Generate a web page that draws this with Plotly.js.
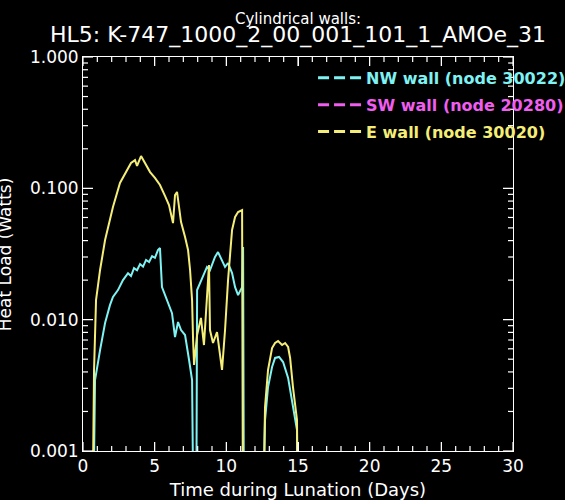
<!DOCTYPE html>
<html>
<head>
<meta charset="utf-8">
<script src="https://cdn.plot.ly/plotly-3.0.1.min.js"></script>
<style>
html,body{margin:0;padding:0;background:#000;}
#chart{width:565px;height:500px;}
</style>
</head>
<body>
<div id="chart"></div>
<script>
// Time during lunation (days) and heat load (W).
// Values of 1e-4 stand for "zero" (below the 0.001 floor of the plot).
const daysNW = [0.66, 0.84, 1.19, 1.54, 1.88, 2.09, 2.44, 2.79, 3.14, 3.35, 3.56, 3.77, 3.98, 4.19, 4.40, 4.61, 4.82, 5.02, 5.23, 5.37,
  5.51, 5.86, 6.21, 6.42, 6.63, 6.84, 7.12, 7.40, 7.61, 7.75, 7.89, 7.96, 8.16, 8.37, 8.65, 8.86, 9.21, 9.42, 9.70, 9.91,
  10.12, 10.40, 10.61, 10.82, 11.10, 11.17, 11.24, 12.49, 12.70, 12.91, 13.19, 13.40, 13.68, 13.96, 14.31, 14.65, 14.93, 15.00];
const heatNW = [1e-4, 0.00347, 0.00587, 0.00944, 0.0129, 0.0149, 0.0168, 0.0200, 0.0226, 0.0215, 0.0247, 0.0238, 0.0265, 0.0253, 0.0285, 0.0275, 0.0305, 0.0296, 0.0339, 0.0351,
  0.0177, 0.0141, 0.0112, 0.00738, 0.00960, 0.00834, 0.00764, 0.00493, 0.00347, 1e-4, 1e-4, 0.0168, 0.0190, 0.0211, 0.0252, 0.0238, 0.0300, 0.0327, 0.0285, 0.0252,
  0.0270, 0.0226, 0.0177, 0.0154, 0.0177, 0.0357, 1e-4, 1e-4, 0.00172, 0.00307, 0.00436, 0.00511, 0.00520, 0.00476, 0.00360, 0.00216, 0.00144, 1e-4];

const daysSW = [0, 15];
const heatSW = [1e-4, 1e-4];

const daysE = [0.62, 0.77, 0.91, 1.19, 1.54, 2.09, 2.58, 3.07, 3.35, 3.63, 3.77, 4.05, 4.33, 4.68, 5.02, 5.37, 5.72, 6.00, 6.28, 6.42,
  6.56, 6.84, 7.12, 7.33, 7.47, 7.61, 7.68, 7.75, 7.96, 8.23, 8.44, 8.65, 8.79, 8.86, 9.07, 9.35, 9.70, 9.91, 10.12, 10.40,
  10.61, 10.82, 11.10, 11.17, 12.49, 12.70, 12.91, 13.19, 13.40, 13.61, 13.89, 14.10, 14.31, 14.45, 14.65, 14.93, 15.00];
const heatE = [1e-4, 0.00414, 0.0141, 0.0239, 0.0404, 0.0722, 0.110, 0.138, 0.156, 0.164, 0.148, 0.176, 0.156, 0.133, 0.120, 0.106, 0.0875, 0.0746, 0.0544, 0.0889,
  0.0938, 0.0554, 0.0426, 0.0339, 0.0239, 0.0141, 0.0070, 0.00452, 0.00764, 0.0103, 0.00641, 0.0141, 0.0261, 0.00834, 0.00664, 0.00805, 0.00414, 0.00834, 0.0200, 0.0482,
  0.0605, 0.0660, 0.0684, 1e-4, 1e-4, 0.00216, 0.00414, 0.00608, 0.00664, 0.00687, 0.00641, 0.00664, 0.00619, 0.00511, 0.00307, 0.00172, 1e-4];

const seriesNames = ['NW wall (node 30022)', 'SW wall (node 20280)', 'E wall (node 30020)'];
const seriesColors = ['#7ff3f3', '#f05ef0', '#f4ee78'];
const titleLine1 = 'Cylindrical walls:';
const titleLine2 = 'HL5: K-747_1000_2_00_001_101_1_AMOe_31';
const xTitle = 'Time during Lunation (Days)';
const yTitle = 'Heat Load (Watts)';
// axis tick positions
const xMajorTicks = [0, 5, 10, 15, 20, 25, 30];
const xMinorTicks = [1, 2, 3, 4, 6, 7, 8, 9, 11, 12, 13, 14, 16, 17, 18, 19, 21, 22, 23, 24, 26, 27, 28, 29];
const yMajorTicks = [0.001, 0.01, 0.1, 1];
const yMinorTicks = [0.002, 0.003, 0.004, 0.005, 0.006, 0.007, 0.008, 0.009,
  0.02, 0.03, 0.04, 0.05, 0.06, 0.07, 0.08, 0.09,
  0.2, 0.3, 0.4, 0.5, 0.6, 0.7, 0.8, 0.9];

const FONT = 'DejaVu Sans, Liberation Sans, sans-serif';
const X_RANGE = [0, 30];
const Y_RANGE_LOG = [-3, 0];
const PLOT_W = 430, PLOT_H = 394; // plot-area size in px (565-83-52, 500-57-49)

const allDays = [daysNW, daysSW, daysE];
const allHeat = [heatNW, heatSW, heatE];

const traces = [];
[1, 0, 2].forEach(function (i) {
  traces.push({
    x: allDays[i], y: allHeat[i], type: 'scatter', mode: 'lines',
    line: {color: seriesColors[i], width: 2}, showlegend: false, hoverinfo: 'skip'
  });
});

// IDL-style inward tick marks on all four sides (axis decoration), built from the tick arrays
const dxPerPx = (X_RANGE[1] - X_RANGE[0]) / PLOT_W;
const dDecPerPx = (Y_RANGE_LOG[1] - Y_RANGE_LOG[0]) / PLOT_H;
const tx = [], ty = [];
function xTick(v, px) {
  tx.push(v, v, null, v, v, null);
  ty.push(Math.pow(10, Y_RANGE_LOG[0]), Math.pow(10, Y_RANGE_LOG[0] + px * dDecPerPx), null,
          Math.pow(10, Y_RANGE_LOG[1]), Math.pow(10, Y_RANGE_LOG[1] - px * dDecPerPx), null);
}
function yTick(v, px) {
  tx.push(X_RANGE[0], X_RANGE[0] + px * dxPerPx, null, X_RANGE[1], X_RANGE[1] - px * dxPerPx, null);
  ty.push(v, v, null, v, v, null);
}
xMajorTicks.forEach(function (v) { xTick(v, 9); });
xMinorTicks.forEach(function (v) { xTick(v, 5); });
yMajorTicks.forEach(function (v) { yTick(v, 10); });
yMinorTicks.forEach(function (v) { yTick(v, 5); });
traces.push({
  x: tx, y: ty, type: 'scatter', mode: 'lines', connectgaps: false, cliponaxis: false,
  line: {color: '#ffffff', width: 1.2}, showlegend: false, hoverinfo: 'skip'
});

[0, 1, 2].forEach(function (i) {
  traces.push({
    x: [null], y: [null], type: 'scatter', mode: 'lines',
    name: '<span style="color:' + seriesColors[i] + '">' + seriesNames[i] + '</span>',
    legendgroup: 'g' + i,
    line: {color: seriesColors[i], width: 3, dash: '11px,5px'}
  });
});

const axisFont = {family: FONT, size: 17, color: '#ffffff'};

const layout = {
  width: 565, height: 500,
  paper_bgcolor: '#000000', plot_bgcolor: 'rgba(0,0,0,0)',
  margin: {l: 83, r: 52, t: 57, b: 49, autoexpand: false},
  showlegend: true,
  title: {
    text: '<span style="font-size:15px">' + titleLine1 + '</span><br><span style="font-size:22px">' + titleLine2 + '</span>',
    font: {family: FONT, size: 14, color: '#ffffff'},
    x: 0.5, xref: 'paper', xanchor: 'center',
    y: 0.952, yref: 'container', yanchor: 'bottom'
  },
  xaxis: {
    range: X_RANGE, tickmode: 'array', tickvals: xMajorTicks,
    ticks: 'inside', ticklen: 9, tickwidth: 1, tickcolor: '#ffffff',
    showline: true, linecolor: '#ffffff', linewidth: 1, mirror: 'ticks',
    showgrid: false, zeroline: false,
    tickfont: axisFont,
    title: {text: xTitle, font: {family: FONT, size: 18, color: '#ffffff'}, standoff: 12}
  },
  yaxis: {
    type: 'log', range: Y_RANGE_LOG, tickmode: 'array', tickvals: yMajorTicks, tickformat: '.3f', ticksuffix: ' ',
    ticks: 'inside', ticklen: 10, tickwidth: 1, tickcolor: '#ffffff',
    showline: true, linecolor: '#ffffff', linewidth: 1, mirror: 'ticks',
    showgrid: false, zeroline: false,
    tickfont: axisFont
  },
  legend: {
    x: 0.535, xanchor: 'left', y: 0.99, yanchor: 'top',
    bgcolor: 'rgba(0,0,0,0)', borderwidth: 0,
    font: {family: FONT, size: 16, weight: 'bold', color: '#ffffff'},
    itemwidth: 43, tracegroupgap: 3, traceorder: 'grouped'
  },
  annotations: [{
    text: yTitle, textangle: -90, showarrow: false,
    xref: 'paper', yref: 'paper', x: -0.181, y: 0.5, xanchor: 'center', yanchor: 'middle',
    font: {family: FONT, size: 17, color: '#ffffff'}
  }]
};

Plotly.newPlot('chart', traces, layout, {staticPlot: true, displayModeBar: false});
</script>
</body>
</html>
